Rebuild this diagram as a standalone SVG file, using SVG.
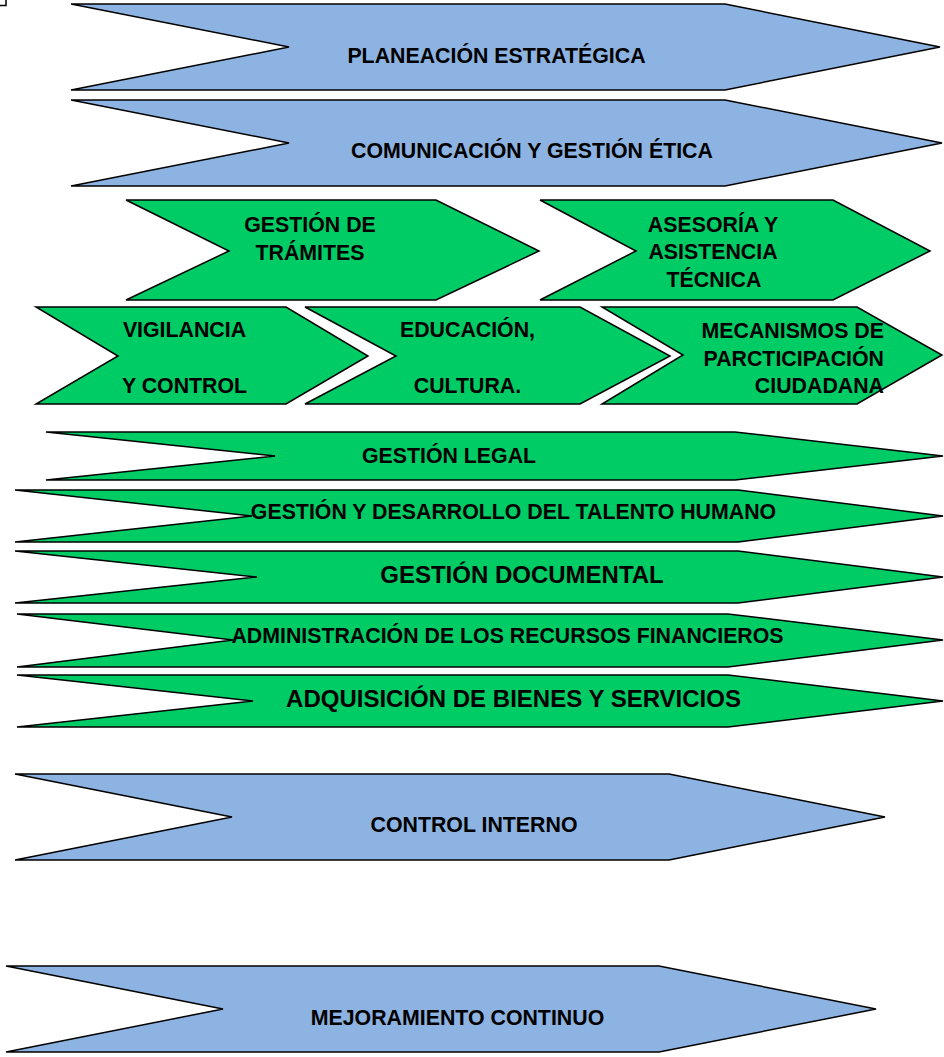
<svg xmlns="http://www.w3.org/2000/svg" width="944" height="1057" viewBox="0 0 944 1057">
<style>
.blue{fill:#8DB3E2;stroke:#000;stroke-width:1.5;stroke-linejoin:miter}
.green{fill:#00CC66;stroke:#000;stroke-width:1.5;stroke-linejoin:miter}
.t{font-family:"Liberation Sans",Arial,Helvetica,sans-serif;font-weight:bold;font-size:21.33px;fill:#000;text-anchor:middle}
.big{font-size:24px}
.end{text-anchor:end}
</style>
<rect width="944" height="1057" fill="#fff"/>
<path d="M0 5.5H6V0" fill="none" stroke="#000" stroke-width="1.5"/>
<g id="planeacion">
<polygon class="blue" points="71,4 725,4 940,47 725,90 71,90 289,47"/>
<text class="t" x="496.5" y="63">PLANEACIÓN ESTRATÉGICA</text>
</g>
<g id="comunicacion">
<polygon class="blue" points="71,100 725,100 942,143 725,186 71,186 289,143"/>
<text class="t" x="532" y="158">COMUNICACIÓN Y GESTIÓN ÉTICA</text>
</g>
<g id="tramites">
<polygon class="green" points="126,200 436,200 539,251 436,300 126,300 229,251"/>
<text class="t" x="310" y="232">GESTIÓN DE</text>
<text class="t" x="310" y="260">TRÁMITES</text>
</g>
<g id="asesoria">
<polygon class="green" points="540,200 833,200 930,251 833,300 540,300 636,251"/>
<text class="t" x="713" y="232">ASESORÍA Y</text>
<text class="t" x="713" y="259">ASISTENCIA</text>
<text class="t" x="714" y="287">TÉCNICA</text>
</g>
<g id="vigilancia">
<polygon class="green" points="36,307 286,307 368,356 286,404 36,404 118,356"/>
<text class="t" x="184.5" y="337">VIGILANCIA</text>
<text class="t" x="184.5" y="393">Y CONTROL</text>
</g>
<g id="educacion">
<polygon class="green" points="305,307 580,307 670,356 580,404 305,404 396,356"/>
<text class="t" x="467.5" y="337">EDUCACIÓN,</text>
<text class="t" x="467.5" y="393">CULTURA.</text>
</g>
<g id="mecanismos">
<polygon class="green" points="602,307 857,307 942,355 857,404 602,404 683,355"/>
<text class="t end" x="884" y="338">MECANISMOS DE</text>
<text class="t end" x="884" y="366">PARCTICIPACIÓN</text>
<text class="t end" x="884" y="393">CIUDADANA</text>
</g>
<g id="legal">
<polygon class="green" points="46,432 735,432 943,456 735,480 46,480 275,456"/>
<text class="t" x="449" y="463">GESTIÓN LEGAL</text>
</g>
<g id="talento">
<polygon class="green" points="15,490 738,490 943,516 738,542 15,542 252,516"/>
<text class="t" x="513.5" y="519">GESTIÓN Y DESARROLLO DEL TALENTO HUMANO</text>
</g>
<g id="documental">
<polygon class="green" points="15,551 738,551 943,577 738,603 15,603 257,577"/>
<text class="t big" x="522" y="583">GESTIÓN DOCUMENTAL</text>
</g>
<g id="financieros">
<polygon class="green" points="17,614 728,614 943,640 728,667 17,667 233,640"/>
<text class="t" x="507.5" y="643">ADMINISTRACIÓN DE LOS RECURSOS FINANCIEROS</text>
</g>
<g id="adquisicion">
<polygon class="green" points="17,675 728,675 943,701 728,727 17,727 253,701"/>
<text class="t big" x="513.5" y="707">ADQUISICIÓN DE BIENES Y SERVICIOS</text>
</g>
<g id="control">
<polygon class="blue" points="15,774 669,774 885,817 669,860 15,860 232,817"/>
<text class="t" x="474" y="832">CONTROL INTERNO</text>
</g>
<g id="mejoramiento">
<polygon class="blue" points="6,966 659,966 876,1009 659,1052 6,1052 223,1009"/>
<text class="t" x="457.5" y="1025">MEJORAMIENTO CONTINUO</text>
</g>
</svg>
